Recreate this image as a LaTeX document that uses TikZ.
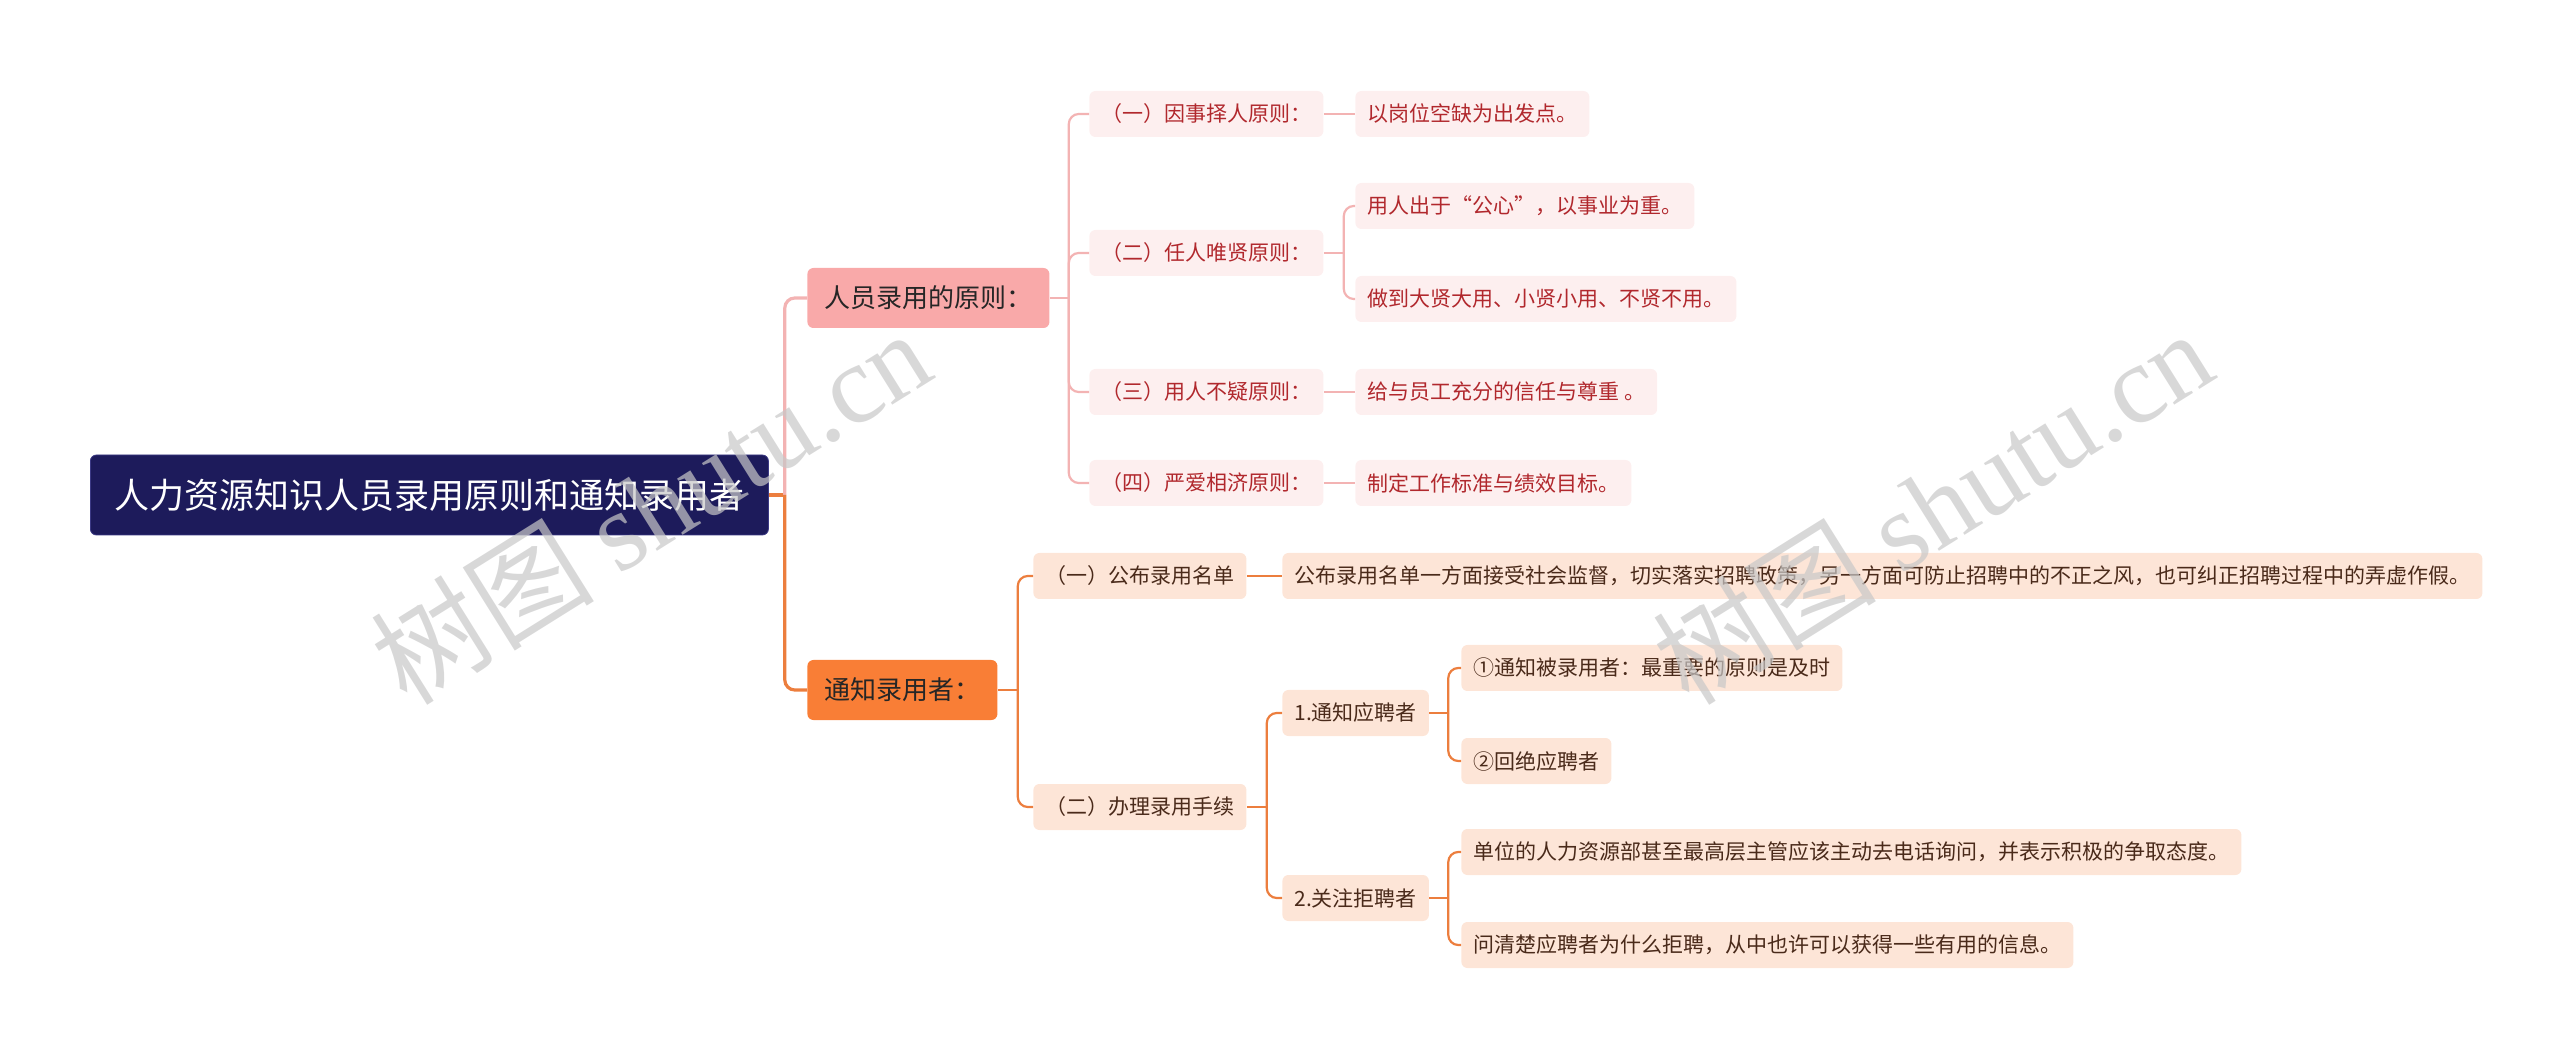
\documentclass[tikz,border=0pt]{standalone}
\usepackage{fontspec}
\setmainfont{Noto Sans CJK SC}
\newfontfamily\wmfont{Liberation Serif}
\newfontfamily\wmcjk{Noto Sans CJK SC}
\usepackage{xcolor}
\usetikzlibrary{positioning}

\definecolor{rootfill}{HTML}{1D1B5B}
\definecolor{rootdraw}{HTML}{3C3A85}
\definecolor{pinkmain}{HTML}{F9A9A9}
\definecolor{pinkline}{HTML}{F3B3B3}
\definecolor{pinkleaf}{HTML}{FDEFEF}
\definecolor{pinktext}{HTML}{B1282D}
\definecolor{orgmain}{HTML}{F97E36}
\definecolor{orgline}{HTML}{EC7E3E}
\definecolor{orgleaf}{HTML}{FDE5D7}
\definecolor{orgtext}{HTML}{4A2A1A}
\definecolor{wmgray}{HTML}{C8C8C8}

\tikzset{
  rootbox/.style={draw=rootdraw, fill=rootfill, text=white, rounded corners=3pt,
    font=\fontsize{17.5}{20}\selectfont, minimum height=40pt, inner xsep=12pt, anchor=west},
  mainpink/.style={fill=pinkmain, text=black!85, rounded corners=3pt,
    font=\fontsize{13}{15}\selectfont, minimum height=30pt, inner xsep=8.5pt, anchor=west},
  mainorg/.style={fill=orgmain, text=black!85, rounded corners=3pt,
    font=\fontsize{13}{15}\selectfont, minimum height=30pt, inner xsep=8.5pt, anchor=west},
  leafpink/.style={fill=pinkleaf, text=pinktext, rounded corners=3pt,
    font=\fontsize{10.5}{12}\selectfont, minimum height=23pt, inner xsep=6pt, anchor=west},
  leaforg/.style={fill=orgleaf, text=orgtext, rounded corners=3pt,
    font=\fontsize{10.5}{12}\selectfont, minimum height=23pt, inner xsep=6pt, anchor=west},
  pinklink/.style={draw=pinkline, line width=1.1pt, rounded corners=5pt},
  orglink/.style={draw=orgline, line width=1.1pt, rounded corners=5pt},
  mark wm/.style={text=wmgray, opacity=0.7, rotate=32}
}

\begin{document}
\begin{tikzpicture}[x=0.5pt,y=-0.5pt]
  \useasboundingbox (0,0) rectangle (2560,1058);

  % root
  \node[rootbox] (root) at (90,495) {人力资源知识人员录用原则和通知录用者};

  % main branches
  \node[mainpink] (yuanze) at (807,298) {人员录用的原则：};
  \node[mainorg] (tongzhi) at (807,690) {通知录用者：};

  % principles
  \node[leafpink] (yz1) at (1089,114) {（一）因事择人原则：};
  \node[leafpink] (yz2) at (1089,253) {（二）任人唯贤原则：};
  \node[leafpink] (yz3) at (1089,392) {（三）用人不疑原则：};
  \node[leafpink] (yz4) at (1089,483) {（四）严爱相济原则：};
  \node[leafpink] (yz1a) at (1355,114) {以岗位空缺为出发点。};
  \node[leafpink] (yz2a) at (1355,206) {用人出于“公心”，以事业为重。};
  \node[leafpink] (yz2b) at (1355,299) {做到大贤大用、小贤小用、不贤不用。};
  \node[leafpink] (yz3a) at (1355,392) {给与员工充分的信任与尊重 。};
  \node[leafpink] (yz4a) at (1355,483) {制定工作标准与绩效目标。};

  % notification
  \node[leaforg] (tz1) at (1033,576) {（一）公布录用名单};
  \node[leaforg] (tz2) at (1033,807) {（二）办理录用手续};
  \node[leaforg] (tz1a) at (1282,576) {公布录用名单一方面接受社会监督，切实落实招聘政策，另一方面可防止招聘中的不正之风，也可纠正招聘过程中的弄虚作假。};
  \node[leaforg] (tz2a) at (1282,713) {1.通知应聘者};
  \node[leaforg] (tz2b) at (1282,898) {2.关注拒聘者};
  \node[leaforg] (tz2a1) at (1461,668) {①通知被录用者：最重要的原则是及时};
  \node[leaforg] (tz2a2) at (1461,761) {②回绝应聘者};
  \node[leaforg] (tz2b1) at (1461,852) {单位的人力资源部甚至最高层主管应该主动去电话询问，并表示积极的争取态度。};
  \node[leaforg] (tz2b2) at (1461,945) {问清楚应聘者为什么拒聘，从中也许可以获得一些有用的信息。};

  % root links
  \draw[orglink, line width=1.6pt, rounded corners=0pt] (root.east) -- ++(16,0) coordinate (rj);
  \draw[pinklink, line width=1.6pt] (rj) |- (yuanze.west);
  \draw[orglink, line width=1.6pt] (rj) |- (tongzhi.west);

  % principle links
  \draw[pinklink, rounded corners=0pt] (yuanze.east) -- ++(19,0) coordinate (yzj);
  \foreach \c in {yz1,yz2,yz3,yz4}
    \draw[pinklink] (yzj) |- (\c.west);
  \draw[pinklink] (yz1.east) -- (yz1a.west);
  \draw[pinklink] (yz3.east) -- (yz3a.west);
  \draw[pinklink] (yz4.east) -- (yz4a.west);
  \draw[pinklink, rounded corners=0pt] (yz2.east) -- ++(20,0) coordinate (yz2j);
  \foreach \c in {yz2a,yz2b}
    \draw[pinklink] (yz2j) |- (\c.west);

  % notification links
  \draw[orglink, rounded corners=0pt] (tongzhi.east) -- ++(20,0) coordinate (tzj);
  \foreach \c in {tz1,tz2}
    \draw[orglink] (tzj) |- (\c.west);
  \draw[orglink] (tz1.east) -- (tz1a.west);
  \draw[orglink, rounded corners=0pt] (tz2.east) -- ++(20,0) coordinate (tz2j);
  \foreach \c in {tz2a,tz2b}
    \draw[orglink] (tz2j) |- (\c.west);
  \draw[orglink, rounded corners=0pt] (tz2a.east) -- ++(19,0) coordinate (tz2aj);
  \foreach \c in {tz2a1,tz2a2}
    \draw[orglink] (tz2aj) |- (\c.west);
  \draw[orglink, rounded corners=0pt] (tz2b.east) -- ++(19,0) coordinate (tz2bj);
  \foreach \c in {tz2b1,tz2b2}
    \draw[orglink] (tz2bj) |- (\c.west);

  % watermark
  \node[mark wm] (wm1) at (650,506) {\fontsize{56}{60}\selectfont\wmcjk 树图 \wmfont shutu.cn};
  \node[mark wm] (wm2) at (1932,506) {\fontsize{56}{60}\selectfont\wmcjk 树图 \wmfont shutu.cn};
\end{tikzpicture}
\end{document}
